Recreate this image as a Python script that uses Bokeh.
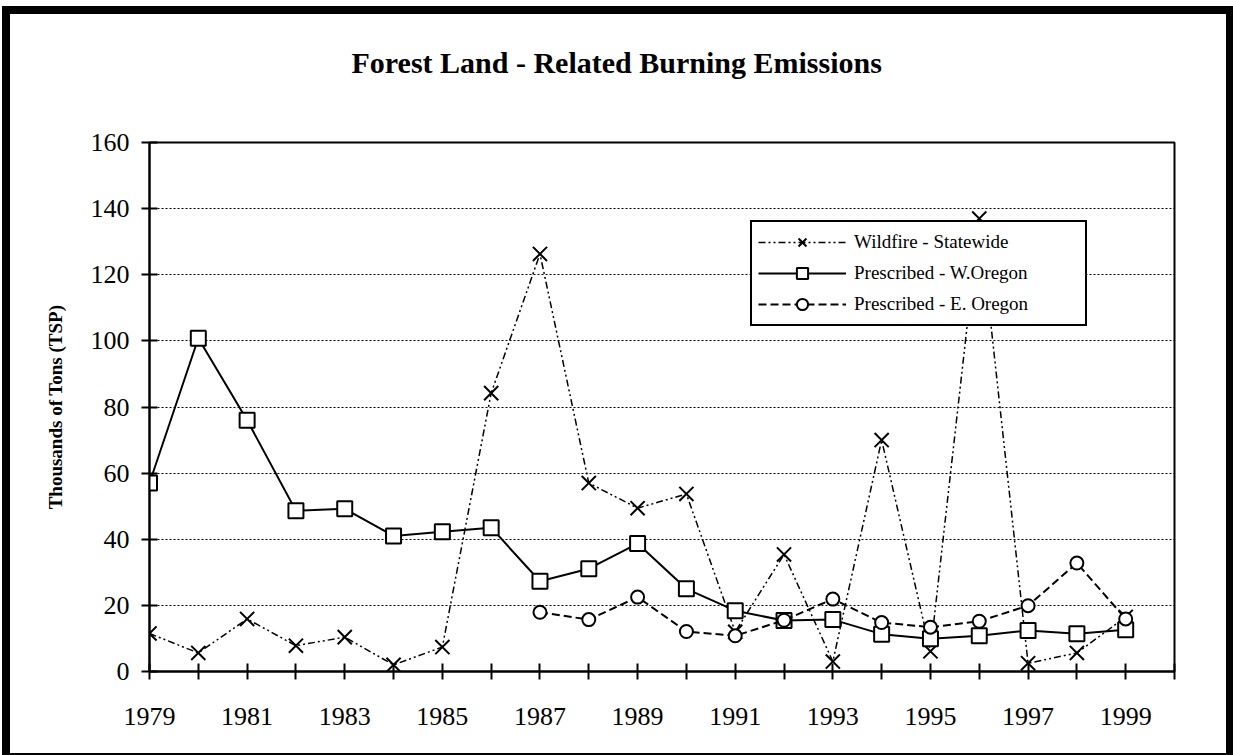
import math
from bokeh.plotting import figure
from bokeh.models import FixedTicker, Legend, LegendItem, Title
from bokeh.embed import file_html
from bokeh.resources import INLINE

nan = float("nan")

years = list(range(1979, 2000))
wildfire = [11.5, 5.6, 15.9, 7.8, 10.4, 2.0, 7.4, 84.2, 126.3, 57.0, 49.4,
            53.7, 12.0, 35.4, 3.0, 70.0, 6.1, 137.0, 2.5, 5.6, 16.5]
w_oregon = [57.0, 100.8, 76.0, 48.6, 49.2, 41.0, 42.3, 43.5, 27.3, 31.1, 38.7,
            25.0, 18.4, 15.4, 15.7, 11.3, 9.9, 10.8, 12.4, 11.4, 12.6]
e_oregon = [nan, nan, nan, nan, nan, nan, nan, nan, 17.9, 15.7, 22.5,
            12.1, 10.8, 15.5, 21.9, 14.8, 13.4, 15.2, 19.9, 32.8, 15.9]

series_names = ["Wildfire - Statewide", "Prescribed - W.Oregon", "Prescribed - E. Oregon"]
title_text = "Forest Land - Related Burning Emissions"
y_title = "Thousands of Tons (TSP)"
x_ticks = list(range(1979, 2001))
x_labels = {yr: (str(yr) if (yr - 1979) % 2 == 0 and yr < 2000 else "") for yr in x_ticks}
y_ticks = list(range(0, 161, 20))

SERIF = "Liberation Serif"

p = figure(width=1233, height=755, output_backend="svg", toolbar_location=None,
           x_range=(1979, 2000), y_range=(0, 160),
           min_border_left=149, min_border_right=59, min_border_top=142, min_border_bottom=84)

# outer page frame (thick black border like the original sheet)
p.styles = {
    "background-color": "white",
    "box-shadow": ("inset 2px 0 0 0 white, inset 0 6px 0 0 white, "
                   "inset 10px 0 0 0 black, inset 0 14px 0 0 black, "
                   "inset -7px 0 0 0 black, inset 0 -2px 0 0 black"),
}
p.border_fill_alpha = 0

spacer = Title(text=" ", text_font_size="43px", text_font=SERIF)
main_title = Title(text=title_text, align="left", offset=202, text_font=SERIF,
                   text_font_size="30px", text_font_style="bold", text_color="black")
p.add_layout(spacer, "above")
p.add_layout(main_title, "above")

p.outline_line_color = "black"
p.outline_line_width = 2
p.background_fill_color = "white"

# axes
p.xaxis.ticker = FixedTicker(ticks=x_ticks)
p.xaxis.major_label_overrides = x_labels
p.yaxis.ticker = FixedTicker(ticks=y_ticks)
for ax in (p.xaxis, p.yaxis):
    ax.axis_line_color = "black"
    ax.axis_line_width = 2
    ax.major_tick_line_color = "black"
    ax.major_tick_line_width = 2
    ax.major_tick_in = 8
    ax.major_tick_out = 8
    ax.minor_tick_line_color = None
    ax.major_label_text_font = SERIF
    ax.major_label_text_font_size = "26px"
    ax.major_label_text_color = "black"
p.xaxis.major_label_standoff = 28
p.yaxis.major_label_standoff = 12
p.yaxis.axis_label = y_title
p.yaxis.axis_label_text_font = SERIF
p.yaxis.axis_label_text_font_size = "19px"
p.yaxis.axis_label_text_font_style = "bold"
p.yaxis.axis_label_text_color = "black"
p.yaxis.axis_label_standoff = 22

p.xgrid.grid_line_color = None
p.ygrid.grid_line_color = "black"
p.ygrid.grid_line_dash = "2 2"
p.ygrid.grid_line_width = 1

# series
l1 = p.line(years, wildfire, line_color="black", line_width=1.5, line_dash="7 3 2 3 2 3")
m1 = p.scatter(years, wildfire, marker="x", size=20, line_color="black", line_width=2)
l2 = p.line(years, w_oregon, line_color="black", line_width=2)
m2 = p.scatter(years, w_oregon, marker="square", size=15, line_color="black", line_width=2,
               fill_color="white")
l3 = p.line(years, e_oregon, line_color="black", line_width=2, line_dash="8 4")
m3 = p.scatter(years, e_oregon, marker="circle", size=13, line_color="black", line_width=2,
               fill_color="white")

legend = Legend(items=[LegendItem(label=series_names[0], renderers=[l1, m1]),
                       LegendItem(label=series_names[1], renderers=[l2, m2]),
                       LegendItem(label=series_names[2], renderers=[l3, m3])],
                location=(601, 345))
legend.label_text_font = SERIF
legend.label_text_font_size = "19px"
legend.label_text_color = "black"
legend.border_line_color = "black"
legend.border_line_width = 2
legend.border_line_alpha = 1
legend.background_fill_color = "white"
legend.background_fill_alpha = 1
legend.glyph_width = 88
legend.glyph_height = 28
legend.label_height = 28
legend.label_width = 225
legend.spacing = 3
legend.padding = 6
legend.margin = 0
legend.label_standoff = 8
p.add_layout(legend, "center")

open("out.html", "w").write(file_html(p, INLINE))
